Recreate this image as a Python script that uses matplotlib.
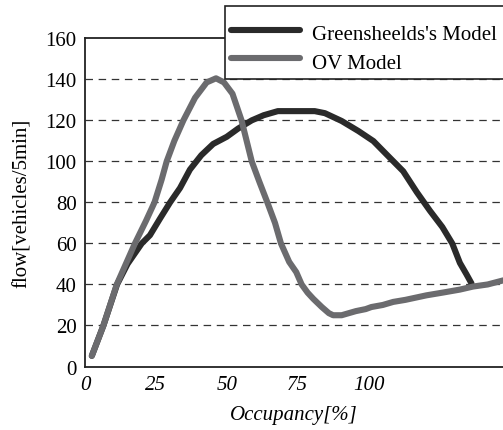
import numpy as np
import matplotlib.pyplot as plt
from matplotlib.patches import Rectangle

# Greenshields's model (black)
gs_occ = [2.4, 6.5, 11.3, 15, 20, 22.9, 26.4, 30, 33.5, 37, 41, 45.2, 50, 54,
          58.8, 63, 68, 75, 81, 84.6, 90.5, 96.4, 101.7, 106.4, 112.2, 117,
          121.6, 126, 129.5, 132.2, 134.5, 136.3]
gs_flow = [5.2, 20, 40, 50, 60, 64, 72, 80, 87, 96, 103, 108.5, 112, 116,
           120, 122.5, 124.5, 124.5, 124.5, 123.5, 119.7, 114.8, 109.9, 103.3,
           95.2, 85, 76, 68, 60, 50.5, 45, 40.5]

# OV model (grey)
ov_occ = [2.4, 6.5, 11.2, 17.6, 21.5, 24.5, 27, 28.8, 31.5, 34.7, 38.8, 42.9,
          46.2, 49, 52, 55.2, 57, 58.8, 61.5, 64.3, 67, 69.1, 72, 74.5, 76.4,
          78.5, 80.5, 83.5, 86, 87.5, 90.5, 93, 95.5, 99, 101, 105, 108.7, 113,
          120.4, 126, 132.2, 136.9, 142, 147.5]
ov_flow = [5.2, 20, 40, 60, 71, 80, 91, 100, 110, 120, 131, 138.5,
           140.5, 138.5, 133, 120, 110, 100, 90, 80, 70, 60, 51, 46, 40,
           36, 33, 29, 26, 25, 25, 26, 27, 28, 29, 30, 31.5, 32.5,
           34.7, 36, 37.5, 39, 40, 42]

xtick_vals = [0, 25, 50, 75, 100]
ytick_vals = [0, 20, 40, 60, 80, 100, 120, 140, 160]

plt.rcParams['font.family'] = ['Liberation Serif', 'DejaVu Serif']

W, H = 503, 431
fig = plt.figure(figsize=(5.03, 4.31), dpi=100)
ax = fig.add_axes([0.169, 0.1473, 0.831, 0.7615])

for v in ytick_vals[1:-1]:
    ax.axhline(v, color='#333333', lw=0.9, linestyle=(0, (6, 4.5)), zorder=1)

ax.plot(gs_occ, gs_flow, color='#2a2a2a', lw=4.4, solid_capstyle='round',
        label="Greensheelds's Model", zorder=3)
ax.plot(ov_occ, ov_flow, color='#6b6b6e', lw=4.4, solid_capstyle='round',
        label='OV Model', zorder=4)

ax.set_xlim(0, 147.4)
ax.set_ylim(0, 160)
ax.spines['right'].set_visible(False)
for s in ['left', 'bottom', 'top']:
    ax.spines[s].set_linewidth(1.3)
    ax.spines[s].set_color('#222222')

ax.set_yticks(ytick_vals)
ax.set_xticks(xtick_vals)
ax.set_xticklabels([str(v) for v in xtick_vals], fontstyle='italic')
ax.set_xticks([75], minor=True)
ax.tick_params(axis='both', which='major', length=0, labelsize=15, pad=6)
ax.tick_params(axis='x', which='minor', length=7, direction='in', width=1.2)

ax.set_xlabel('Occupancy[%]', fontsize=15, fontstyle='italic', labelpad=8)
ax.set_ylabel('flow[vehicles/5min]', fontsize=15, labelpad=10)

# legend box sticks out past the right edge, so draw frame by hand
box = Rectangle((225 / W, 1 - 80 / H), 290 / W, 73 / H,
                transform=fig.transFigure, facecolor='white',
                edgecolor='#222222', lw=1.2, zorder=5, clip_on=False)
fig.patches.append(box)

handles, labels = ax.get_legend_handles_labels()
leg = fig.legend(handles, labels, loc='upper left',
                 bbox_to_anchor=(225 / W, 1 - 15 / H), fontsize=15,
                 frameon=False, handlelength=3.3, handleheight=1.35,
                 handletextpad=0.6, borderpad=0.3, labelspacing=0.25,
                 borderaxespad=0)
leg.set_zorder(6)

fig.savefig('out.png', dpi=100)
